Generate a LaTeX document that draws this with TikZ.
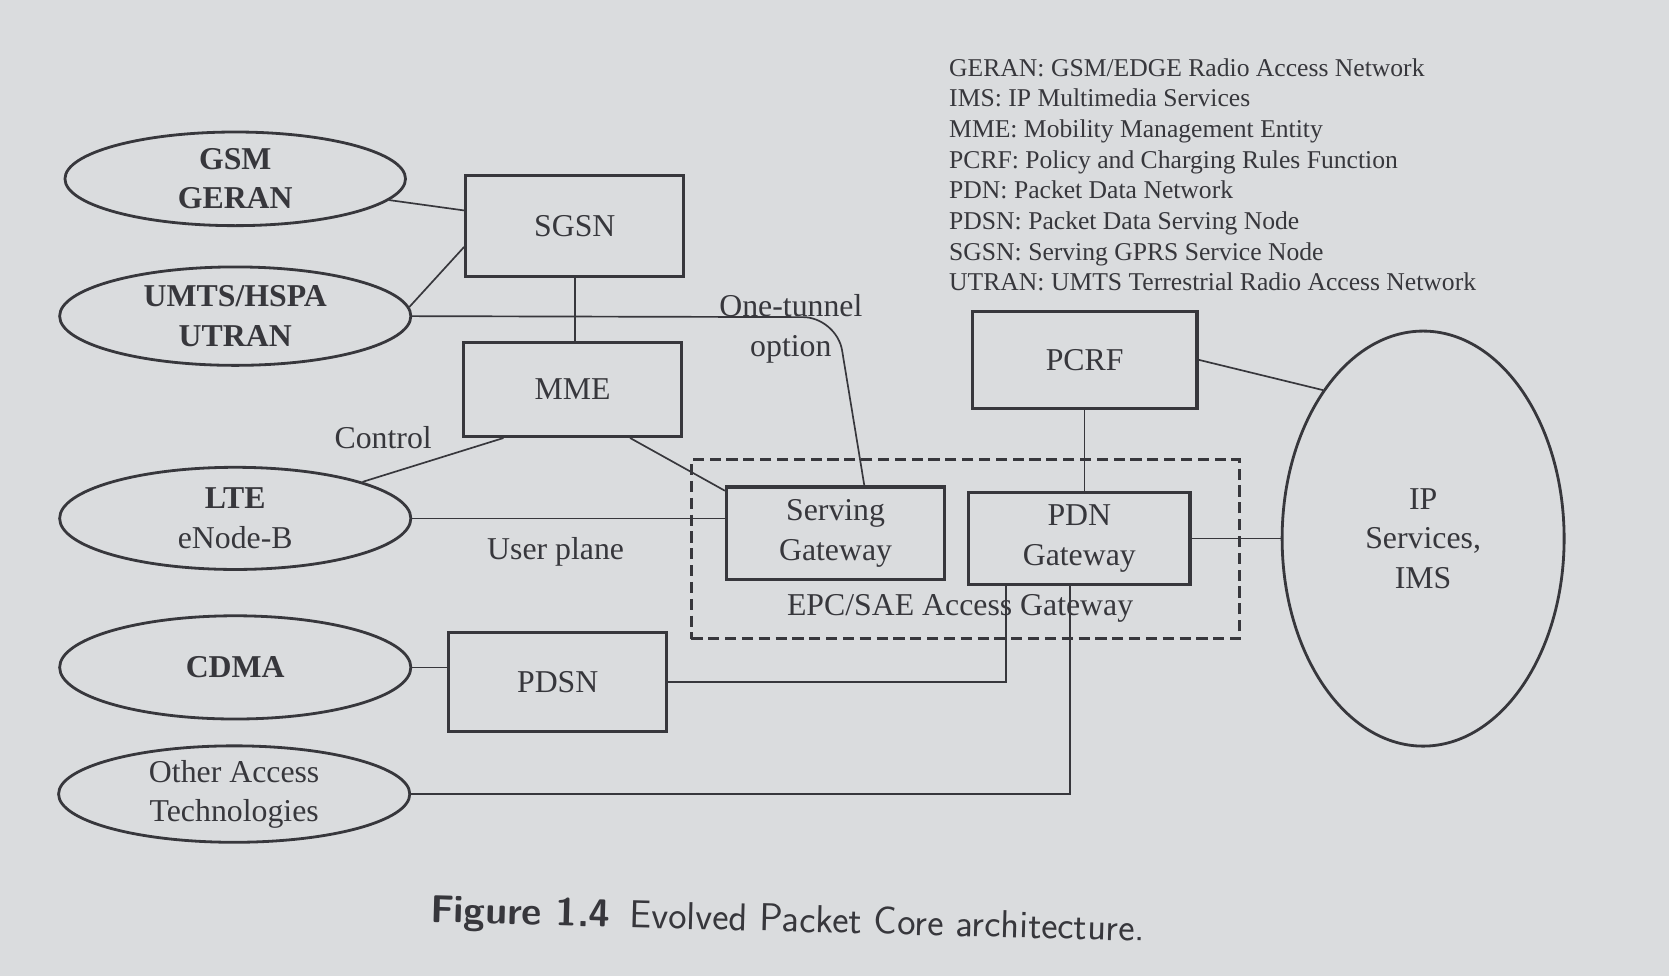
\documentclass[tikz,border=0pt]{standalone}
\usepackage{fontspec}
\setmainfont{Liberation Serif}
\usetikzlibrary{shapes.geometric}
\definecolor{ink}{RGB}{55,55,60}
\definecolor{paper}{RGB}{218,220,222}

\begin{document}
\begin{tikzpicture}[x=0.02cm, y=-0.02cm, font=\fontsize{17}{21}\selectfont, color=ink, line width=0.9pt]
    \tikzstyle{block} = [rectangle, draw, line width=1.7pt, align=center, minimum width=4.1cm, minimum height=1.8cm]
    \tikzstyle{access} = [ellipse, draw, line width=1.5pt, align=center, inner sep=0pt, minimum width=6.6cm, minimum height=1.85cm]
    \tikzstyle{group} = [rectangle, draw, line width=1.6pt, dash pattern=on 6pt off 3pt, minimum width=10.3cm, minimum height=3.36cm]
    \fill[paper] (0,0) rectangle (1568,917);
    \useasboundingbox (0,0) rectangle (1568,917);

    \node[access, minimum width=6.4cm, minimum height=1.76cm] (gsm) at (221,168) {\textbf{GSM}\\\textbf{GERAN}};
    \node[access] (umts) at (221,297) {\textbf{UMTS/HSPA}\\\textbf{UTRAN}};
    \node[access, minimum height=1.92cm] (lte) at (221,487) {\textbf{LTE}\\eNode-B};
    \node[access, minimum height=1.94cm] (cdma) at (221,627) {\textbf{CDMA}};
    \node[access, minimum height=1.76cm] (other) at (220,746) {Other Access\\Technologies};

    \node[block, minimum height=1.9cm] (sgsn) at (540,212) {SGSN};
    \node[block, minimum height=1.76cm] (mme) at (538,366) {MME};
    \node[block, minimum height=1.86cm] (pdsn) at (524,641) {PDSN};
    \node[group] (epc) at (907,516) {};
    \node[block, minimum height=1.74cm] (sgw) at (785,501) {Serving\\Gateway};
    \node[block, minimum width=4.16cm, minimum height=1.74cm] (pgw) at (1014,506) {PDN\\Gateway};
    \node[block, minimum width=4.22cm, minimum height=1.82cm] (pcrf) at (1019,338) {PCRF};
    \node[ellipse, draw, line width=1.5pt, align=center, minimum width=5.3cm, minimum height=7.8cm] (ip) at (1337,506) {IP\\Services,\\IMS};

    \node[align=center] (tunnel) at (743,309) {One-tunnel\\option};
    \node (ctrl) at (360,411) {Control};
    \node (uplane) at (522,518) {User plane};
    \node (epclabel) at (902,572) {EPC/SAE Access Gateway};
    \coordinate (bend) at (786,298);

    \node[anchor=north west, align=left, inner sep=0pt, font=\fontsize{13.7}{16.4}\selectfont] (legend) at (891,54) {GERAN: GSM/EDGE Radio Access Network\\IMS: IP Multimedia Services\\MME: Mobility Management Entity\\PCRF: Policy and Charging Rules Function\\PDN: Packet Data Network\\PDSN: Packet Data Serving Node\\SGSN: Serving GPRS Service Node\\UTRAN: UMTS Terrestrial Radio Access Network};
    \node[font=\sffamily\fontsize{20.8}{24}\selectfont, rotate=-1.5] (caption) at (740,866) {\textbf{Figure 1.4}\enspace Evolved Packet Core architecture.};

    \draw (gsm) -- (sgsn);
    \draw (umts.3) -- ([yshift=-0.4cm]sgsn.west);
    \draw[rounded corners=18pt] (umts.east) -- (bend) -- ([xshift=0.54cm]sgw.north);
    \draw (sgsn.south) -- (sgsn.south |- mme.north);
    \draw ([xshift=-1.3cm]mme.south) -- (lte.16);
    \draw ([xshift=1.08cm]mme.south) -- ([yshift=-0.1cm]sgw.north west);
    \draw (lte.east) -- (lte.east -| sgw.west);
    \draw (pcrf.south) -- (pcrf.south |- pgw.north);
    \draw (pcrf.east) -- (ip.124);
    \draw (pgw.east) -- (ip.west);
    \draw (cdma.east) -- (cdma.east -| pdsn.west);
    \draw (pdsn.east) -| ([xshift=-1.38cm]pgw.south);
    \draw (other.east) -| ([xshift=-0.18cm]pgw.south);
\end{tikzpicture}
\end{document}
